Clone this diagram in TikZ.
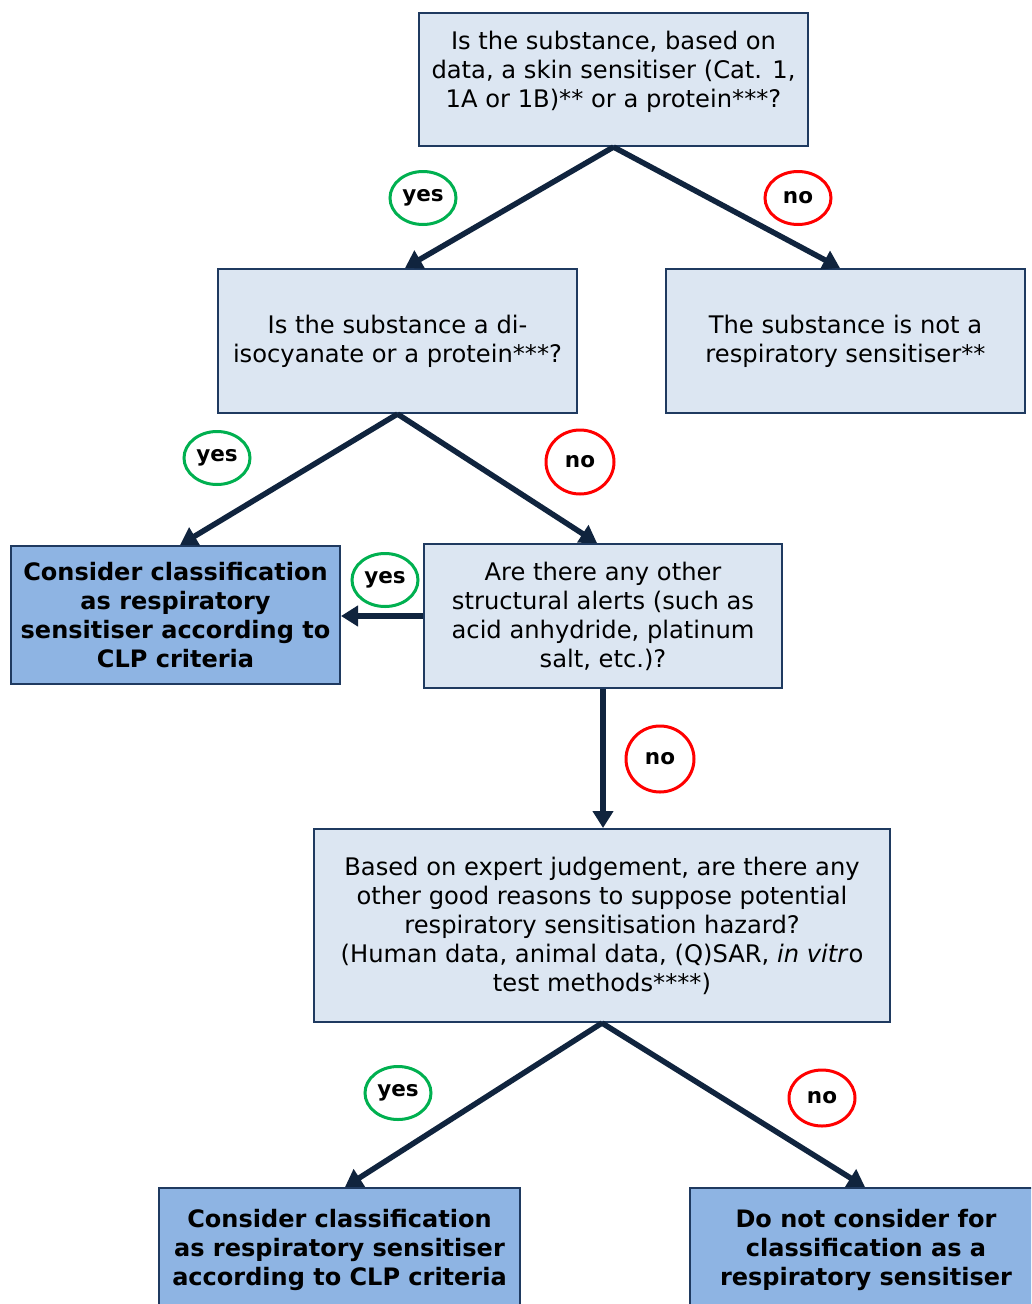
\documentclass[tikz,border=0pt]{standalone}
\usepackage{fontspec}
\setmainfont{DejaVu Sans}
\usetikzlibrary{arrows.meta,shapes.geometric}

\definecolor{boxfill}{HTML}{DCE6F2}
\definecolor{resfill}{HTML}{8EB4E3}
\definecolor{boxline}{HTML}{1F3A60}
\definecolor{arrline}{HTML}{10243E}
\definecolor{yesgreen}{HTML}{00B050}
\definecolor{nored}{HTML}{FF0000}

\begin{document}
\begin{tikzpicture}[x=1pt,y=-1pt,
    qbox/.style={rectangle, draw=boxline, line width=2pt, fill=boxfill,
      inner sep=0pt, align=center, font=\fontsize{24.2}{29}\selectfont},
    resbox/.style={qbox, fill=resfill, font=\fontsize{24}{29}\selectfont\bfseries},
    yesmark/.style={ellipse, draw=yesgreen, line width=3pt, inner sep=0pt,
      minimum width=66pt, minimum height=53pt, font=\fontsize{21.5}{24}\selectfont\bfseries},
    nomark/.style={yesmark, draw=nored},
    arr/.style={draw=arrline, line width=5.5pt,
      -{Triangle[length=17pt,width=20pt]}}
    ]
    \clip (0,0) rectangle (1031,1304);
    \fill[white] (0,0) rectangle (1031,1304);

    % questions and outcomes
    \node[qbox, minimum width=389pt, minimum height=133pt] (q1) at (613.5,79.5)
      {Is the substance, based on\\data, a skin sensitiser (Cat. 1,\\1A or 1B)** or a protein***?\\[-8pt]\mbox{}};
    \node[qbox, minimum width=359pt, minimum height=144pt] (q2) at (397.5,341)
      {Is the substance a di-\\isocyanate or a protein***?};
    \node[qbox, minimum width=359pt, minimum height=144pt] (n1) at (845.5,341)
      {The substance is not a\\respiratory sensitiser**};
    \node[resbox, minimum width=329pt, minimum height=138pt] (c1) at (175.5,615)
      {Consider classification\\as respiratory\\sensitiser according to\\CLP criteria};
    \node[qbox, minimum width=358pt, minimum height=144pt] (q3) at (603,616)
      {Are there any other\\structural alerts (such as\\acid anhydride, platinum\\salt, etc.)?};
    \node[qbox, minimum width=576pt, minimum height=193pt] (q4) at (602,925.5)
      {Based on expert judgement, are there any\\other good reasons to suppose potential\\respiratory sensitisation hazard?\\(Human data, animal data, (Q)SAR, \textit{in vitr}o\\test methods****)};
    \node[resbox, minimum width=361pt, minimum height=124pt] (b1) at (339.5,1250)
      {Consider classification\\as respiratory sensitiser\\according to CLP criteria};
    \node[resbox, minimum width=352pt, minimum height=124pt] (b2) at (866,1250)
      {Do not consider for\\classification as a\\respiratory sensitiser};

    % yes / no marks
    \node[yesmark] (y1) at (423,198) {yes};
    \node[nomark] (o1) at (798,198) {no};
    \node[yesmark] (y2) at (217,458) {yes};
    \node[nomark, minimum width=68pt, minimum height=64pt] (o2) at (580,462) {no};
    \node[yesmark] (y3) at (385,580) {yes};
    \node[nomark, minimum width=68pt, minimum height=66pt] (o3) at (660,759) {no};
    \node[yesmark] (y4) at (398,1093) {yes};
    \node[nomark, minimum height=56pt] (o4) at (822,1098) {no};

    % connectors
    \draw[arr] (q1.south) -- ([xshift=7.5pt]q2.north);
    \draw[arr] (q1.south) -- ([xshift=-5.5pt]n1.north);
    \draw[arr] (q2.south) -- ([xshift=4.5pt]c1.north);
    \draw[arr] (q2.south) -- ([xshift=-6pt]q3.north);
    \draw[arr] (q3.west) -- (q3.west -| c1.east);
    \draw[arr] (q3.south) -- (q3.south |- q4.north);
    \draw[arr] (q4.south) -- ([xshift=5.5pt]b1.north);
    \draw[arr] (q4.south) -- ([xshift=-1pt]b2.north);
\end{tikzpicture}
\end{document}
